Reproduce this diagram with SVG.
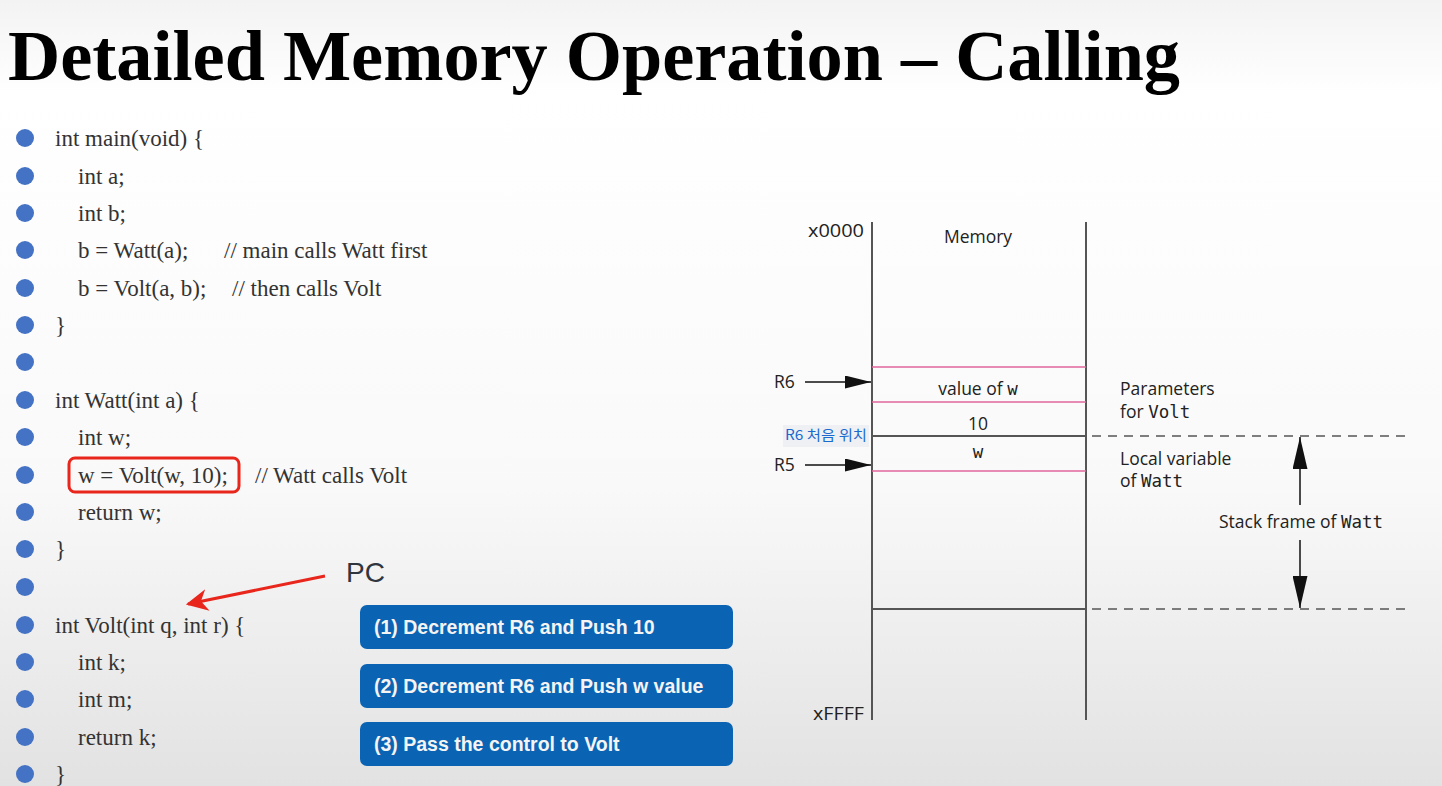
<svg xmlns="http://www.w3.org/2000/svg" width="1442" height="786" viewBox="0 0 1442 786">
<defs>
<linearGradient id="bg" x1="0" y1="0" x2="0" y2="1">
<stop offset="0" stop-color="#f3f3f3"/>
<stop offset="0.12" stop-color="#ffffff"/>
<stop offset="0.62" stop-color="#f9f9f9"/>
<stop offset="1" stop-color="#e2e2e2"/>
</linearGradient>
<marker id="ahBig" viewBox="0 0 24 12" refX="24" refY="6" markerWidth="26" markerHeight="13" markerUnits="userSpaceOnUse" orient="auto"><path d="M0,0 L24,6 L0,12 Z" fill="#111"/></marker>
<marker id="ahV" viewBox="0 0 30 14" refX="30" refY="7" markerWidth="32" markerHeight="15" markerUnits="userSpaceOnUse" orient="auto-start-reverse"><path d="M0,0 L30,7 L0,14 Z" fill="#111"/></marker>
<marker id="ahRed" viewBox="0 0 10 10" refX="9" refY="5" markerWidth="22" markerHeight="22" markerUnits="userSpaceOnUse" orient="auto"><path d="M0,0 L10,5 L0,10 L3,5 Z" fill="#e8261c"/></marker>
</defs>
<style>
.code{font-family:"Liberation Serif","Times New Roman",serif;font-size:23px;fill:#333}
.dot{fill:#4472c4}
.btn{fill:#0a63b3}
.btxt{font-family:"Liberation Sans",Arial,sans-serif;font-weight:bold;font-size:19.5px;fill:#f4f4f4}
.mt{font-family:"Open Sans","Liberation Sans",sans-serif;font-size:17.5px;fill:#222}
.mono{font-family:"DejaVu Sans Mono","Liberation Mono",monospace;font-size:17.5px}
.pink{stroke:#e0669e;stroke-width:1.5}
.dark{stroke:#555;stroke-width:2}
.dash{stroke:#555;stroke-width:1.5;stroke-dasharray:9 7}
</style>
<rect x="0" y="0" width="1442" height="786" fill="url(#bg)"/>

<g id="title">
<text x="8" y="80" font-family="Liberation Serif,'Times New Roman',serif" font-weight="bold" font-size="72" fill="#000" textLength="1172" lengthAdjust="spacingAndGlyphs">Detailed Memory Operation – Calling</text>
</g>

<g id="code">
<g class="dot">
<circle cx="25" cy="138" r="9"/><circle cx="25" cy="176" r="9"/><circle cx="25" cy="213" r="9"/><circle cx="25" cy="250" r="9"/><circle cx="25" cy="288" r="9"/><circle cx="25" cy="325" r="9"/><circle cx="25" cy="362" r="9"/><circle cx="25" cy="400" r="9"/><circle cx="25" cy="437" r="9"/><circle cx="25" cy="475" r="9"/><circle cx="25" cy="512" r="9"/><circle cx="25" cy="549" r="9"/><circle cx="25" cy="587" r="9"/><circle cx="25" cy="625" r="9"/><circle cx="25" cy="662" r="9"/><circle cx="25" cy="699" r="9"/><circle cx="25" cy="737" r="9"/><circle cx="25" cy="774" r="9"/>
</g>
<text class="code" x="55" y="146">int main(void) {</text>
<text class="code" x="78" y="184">int a;</text>
<text class="code" x="78" y="221">int b;</text>
<text class="code" x="78" y="258">b = Watt(a);</text>
<text class="code" x="224" y="258">// main calls Watt first</text>
<text class="code" x="78" y="296">b = Volt(a, b);</text>
<text class="code" x="232" y="296">// then calls Volt</text>
<text class="code" x="55" y="333">}</text>
<text class="code" x="55" y="408">int Watt(int a) {</text>
<text class="code" x="78" y="445">int w;</text>
<text class="code" x="78" y="483">w = Volt(w, 10);</text>
<text class="code" x="255" y="483">// Watt calls Volt</text>
<text class="code" x="78" y="520">return w;</text>
<text class="code" x="55" y="557">}</text>
<text class="code" x="55" y="633">int Volt(int q, int r) {</text>
<text class="code" x="78" y="670">int k;</text>
<text class="code" x="78" y="707">int m;</text>
<text class="code" x="78" y="745">return k;</text>
<text class="code" x="55" y="782">}</text>
<rect x="69" y="458" width="170" height="34" rx="6" fill="none" stroke="#e8261c" stroke-width="3"/>
</g>

<g id="pc">
<text x="346" y="582" font-family="Liberation Sans,Arial,sans-serif" font-size="28" fill="#2f3640">PC</text>
</g>

<g id="steps">
<g id="step1"><rect class="btn" x="360" y="605" width="373" height="44" rx="7"/><text class="btxt" x="374" y="634">(1) Decrement R6 and Push 10</text></g>
<g id="step2"><rect class="btn" x="360" y="664" width="373" height="44" rx="7"/><text class="btxt" x="374" y="693">(2) Decrement R6 and Push w value</text></g>
<g id="step3"><rect class="btn" x="360" y="722" width="373" height="44" rx="7"/><text class="btxt" x="374" y="751">(3) Pass the control to Volt</text></g>
</g>

<g id="memory">
<line x1="872" y1="222" x2="872" y2="720" class="dark"/>
<line x1="1086" y1="222" x2="1086" y2="720" class="dark"/>
<line x1="872" y1="367" x2="1086" y2="367" class="pink"/>
<line x1="872" y1="402" x2="1086" y2="402" class="pink"/>
<line x1="872" y1="471" x2="1086" y2="471" class="pink"/>
<line x1="872" y1="436" x2="1086" y2="436" class="dark"/>
<line x1="872" y1="609" x2="1086" y2="609" class="dark"/>
<text class="mt" x="808" y="237" textLength="56" lengthAdjust="spacingAndGlyphs">x0000</text>
<text class="mt" x="813" y="720" textLength="51" lengthAdjust="spacingAndGlyphs">xFFFF</text>
<text class="mt" x="978" y="243" text-anchor="middle">Memory</text>
<text class="mt" x="978" y="395" text-anchor="middle">value of <tspan class="mono">w</tspan></text>
<text class="mt" x="978" y="430" text-anchor="middle">10</text>
<text class="mono" x="978" y="458" text-anchor="middle" fill="#222">w</text>
</g>

<g id="r6">
<text class="mt" x="774" y="388">R6</text>
</g>
<g id="r5">
<text class="mt" x="774" y="471">R5</text>
</g>
<g id="r6-initial">
<rect x="783" y="425" width="86" height="22" fill="#eef0f3"/>
<text x="785" y="440" font-family="'Noto Sans CJK KR','Noto Sans',sans-serif" font-size="14" fill="#1a6bd0" textLength="82" lengthAdjust="spacingAndGlyphs">R6 처음 위치</text>
</g>

<g id="labels">
<text class="mt" x="1120" y="395">Parameters</text>
<text class="mt" x="1120" y="418">for <tspan class="mono">Volt</tspan></text>
<text class="mt" x="1120" y="465">Local variable</text>
<text class="mt" x="1120" y="487">of <tspan class="mono">Watt</tspan></text>
<text class="mt" x="1219" y="528">Stack frame of <tspan class="mono">Watt</tspan></text>
</g>

<g id="connectors">
<line x1="805" y1="382" x2="871" y2="382" stroke="#111" stroke-width="1.5" marker-end="url(#ahBig)"/>
<line x1="805" y1="465" x2="871" y2="465" stroke="#111" stroke-width="1.5" marker-end="url(#ahBig)"/>
<line x1="1092" y1="436" x2="1412" y2="436" class="dash"/>
<line x1="1092" y1="609" x2="1412" y2="609" class="dash"/>
<line x1="1300" y1="437" x2="1300" y2="505" stroke="#111" stroke-width="1.5" marker-start="url(#ahV)"/>
<line x1="1300" y1="540" x2="1300" y2="608" stroke="#111" stroke-width="1.5" marker-end="url(#ahV)"/>
<line x1="325" y1="576" x2="188" y2="604" stroke="#e8261c" stroke-width="3" marker-end="url(#ahRed)"/>
</g>
</svg>
